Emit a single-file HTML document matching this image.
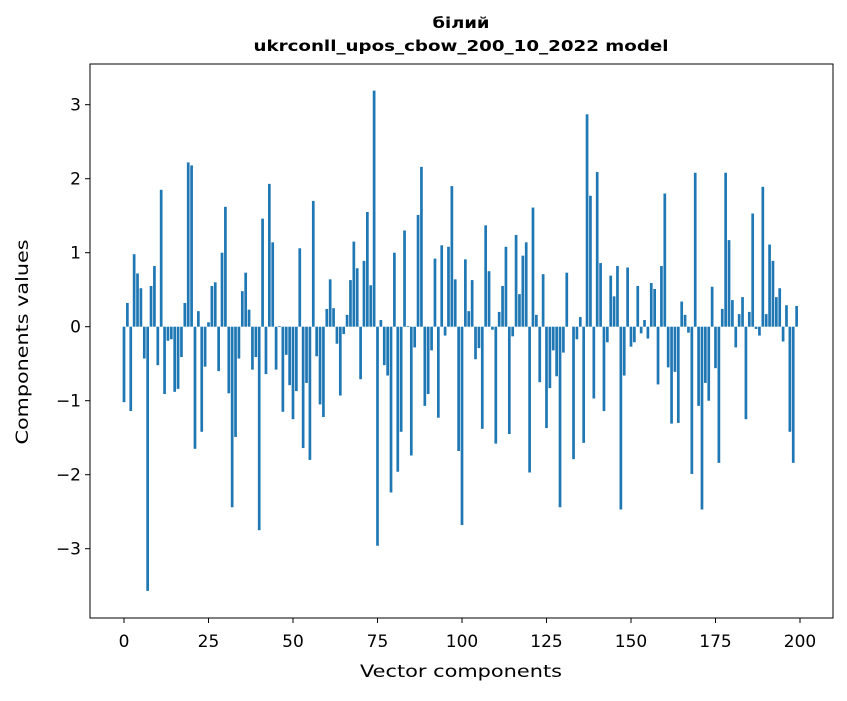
<!DOCTYPE html>
<html><head><meta charset="utf-8"><style>
body{margin:0;background:#fff;}
svg text{font-family:"DejaVu Sans","Liberation Sans",sans-serif;fill:#000;}
</style></head><body>
<svg id="s" width="847" height="696" xmlns="http://www.w3.org/2000/svg">
<rect width="847" height="696" fill="#fff"/>
<text x="461" y="28" text-anchor="middle" font-size="15" font-weight="bold" textLength="57" lengthAdjust="spacingAndGlyphs">білий</text>
<text x="461" y="51" text-anchor="middle" font-size="15" font-weight="bold" textLength="415" lengthAdjust="spacingAndGlyphs">ukrconll_upos_cbow_200_10_2022 model</text>
<g id="bars"></g>
<rect x="90" y="64" width="743" height="554" fill="none" stroke="#000" stroke-width="1"/>
<g id="ticks" font-size="17"></g>
<text x="461" y="677" text-anchor="middle" font-size="17" textLength="202" lengthAdjust="spacingAndGlyphs">Vector components</text>
<text transform="translate(28,342) rotate(-90)" text-anchor="middle" font-size="17" textLength="205" lengthAdjust="spacingAndGlyphs">Components values</text>
</svg>
<script>
var v=[-1.02,0.32,-1.14,0.98,0.72,0.52,-0.43,-3.57,0.55,0.82,-0.52,1.85,-0.91,-0.19,-0.17,-0.88,-0.84,-0.41,0.32,2.22,2.18,-1.65,0.21,-1.42,-0.54,0.06,0.55,0.60,-0.60,1.00,1.62,-0.90,-2.44,-1.49,-0.43,0.48,0.73,0.23,-0.58,-0.41,-2.75,1.46,-0.64,1.93,1.14,-0.58,0.01,-1.15,-0.38,-0.79,-1.25,-0.87,1.06,-1.64,-0.76,-1.80,1.70,-0.40,-1.05,-1.22,0.24,0.64,0.25,-0.23,-0.93,-0.10,0.16,0.63,1.15,0.79,-0.71,0.89,1.55,0.56,3.19,-2.96,0.09,-0.52,-0.66,-2.24,1.00,-1.96,-1.42,1.30,0.01,-1.74,-0.28,1.51,2.16,-1.07,-0.91,-0.32,0.92,-1.23,1.10,-0.12,1.08,1.90,0.64,-1.68,-2.68,0.91,0.21,0.63,-0.44,-0.29,-1.38,1.37,0.75,-0.04,-1.58,0.20,0.55,1.08,-1.45,-0.13,1.24,0.44,0.96,1.14,-1.97,1.61,0.16,-0.75,0.71,-1.37,-0.83,-0.32,-0.67,-2.44,-0.35,0.73,0.0,-1.79,-0.17,0.13,-1.57,2.87,1.77,-0.97,2.09,0.86,-1.14,-0.21,0.69,0.41,0.82,-2.47,-0.66,0.80,-0.27,-0.21,0.55,-0.09,0.09,-0.16,0.59,0.51,-0.78,0.82,1.80,-0.55,-1.31,-0.61,-1.30,0.34,0.16,-0.08,-1.99,2.08,-1.07,-2.47,-0.76,-1.00,0.54,-0.56,-1.84,0.24,2.08,1.17,0.36,-0.28,0.17,0.40,-1.25,0.20,1.53,-0.03,-0.12,1.89,0.17,1.11,0.89,0.40,0.52,-0.20,0.29,-1.42,-1.84,0.28];
var NS="http://www.w3.org/2000/svg";
function X(i){return 124+3.38*i;}
var y0=326.7,k=74;
var g=document.getElementById('bars');
for(var i=0;i<v.length;i++){var r=document.createElementNS(NS,'rect');var h=v[i]*k;
r.setAttribute('x',X(i)-1.35);r.setAttribute('width',2.7);
r.setAttribute('y',h>0?y0-h:y0);r.setAttribute('height',Math.abs(h));r.setAttribute('fill','#1f77b4');g.appendChild(r);}
var t=document.getElementById('ticks');
function add(tag,at,txt){var e=document.createElementNS(NS,tag);for(var a in at)e.setAttribute(a,at[a]);if(txt!==undefined)e.textContent=txt;t.appendChild(e);}
for(var j=0;j<=200;j+=25){var x=X(j);add('line',{x1:x,x2:x,y1:618,y2:623,stroke:'#000'});add('text',{x:x,y:647,'text-anchor':'middle'},String(j));}
for(var m=-3;m<=3;m++){var y=y0-m*k;add('line',{x1:85,x2:90,y1:y,y2:y,stroke:'#000'});add('text',{x:81,y:y+6,'text-anchor':'end'},m<0?'\u2212'+(-m):String(m));}
</script>
</body></html>
